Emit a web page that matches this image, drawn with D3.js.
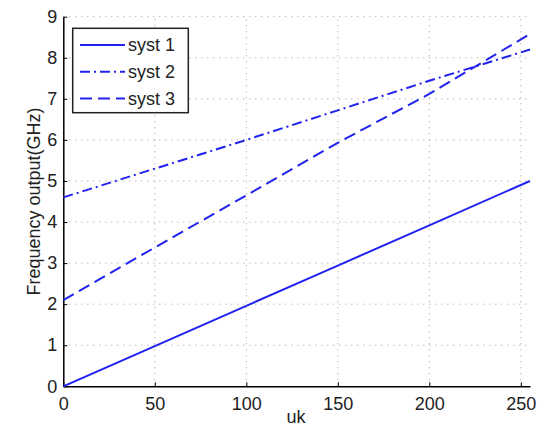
<!DOCTYPE html>
<html>
<head>
<meta charset="utf-8">
<script src="https://cdn.jsdelivr.net/npm/d3@7"></script>
<style>
body { margin: 0; background: #fff; }
text { font-family: "Liberation Sans", Arial, sans-serif; }
</style>
</head>
<body>
<script>
(function(){
'use strict';

var xs = [0, 50, 100, 150, 200, 255];
var syst1 = [0, 0.98, 1.96, 2.94, 3.92, 5.0];
var syst2 = [4.6, 5.3, 6.0, 6.72, 7.44, 8.2];
var syst3 = [2.1, 3.38, 4.65, 5.93, 7.12, 8.58];
var names = ['syst 1', 'syst 2', 'syst 3'];
var dashes = [null, '10,4,2,4', '12,6'];
var xTicks = [0, 50, 100, 150, 200, 250];
var yTicks = [0, 1, 2, 3, 4, 5, 6, 7, 8, 9];

var W = 544, H = 428;
var left = 63.3, right = 530, top = 16.7, bottom = 386.3;

var svg = d3.select('body').append('svg')
	.attr('width', W)
	.attr('height', H);

var x = d3.scaleLinear().domain([0, 255]).range([left, right]);
var y = d3.scaleLinear().domain([0, 9]).range([bottom, top]);

// grid
var grid = svg.append('g')
	.attr('stroke', '#999')
	.attr('stroke-width', 1)
	.attr('stroke-dasharray', '1,5');
grid.selectAll('.gx').data(xTicks).enter().append('line')
	.attr('x1', function(d){ return x(d); })
	.attr('x2', function(d){ return x(d); })
	.attr('y1', bottom).attr('y2', top);
grid.selectAll('.gy').data(yTicks).enter().append('line')
	.attr('y1', function(d){ return y(d); })
	.attr('y2', function(d){ return y(d); })
	.attr('x1', left).attr('x2', right);

// axes
var xAxis = svg.append('g')
	.attr('transform', 'translate(0,' + bottom + ')')
	.call(d3.axisBottom(x).tickValues(xTicks).tickSizeInner(-4).tickSizeOuter(0).tickPadding(8));
var yAxis = svg.append('g')
	.attr('transform', 'translate(' + left + ',0)')
	.call(d3.axisLeft(y).tickValues(yTicks).tickSizeInner(-4).tickSizeOuter(0).tickPadding(6));

[xAxis, yAxis].forEach(function(a){
	a.select('.domain').attr('stroke', '#000').attr('stroke-width', 1.5);
	a.selectAll('.tick line').attr('stroke', '#000');
	a.selectAll('text').attr('font-size', 18).attr('fill', '#222')
		.attr('font-family', '"Liberation Sans", Arial, sans-serif');
});
xAxis.selectAll('text').attr('dy', '0.85em');

// lines
var series = [syst1, syst2, syst3];
var line = d3.line()
	.x(function(d, i){ return x(xs[i]); })
	.y(function(d){ return y(d); });

svg.selectAll('.series').data(series).enter().append('path')
	.attr('d', function(d){ return line(d); })
	.attr('fill', 'none')
	.attr('stroke', '#2222ee')
	.attr('stroke-width', 2)
	.attr('stroke-dasharray', function(d, i){ return dashes[i]; });

// legend
var lg = svg.append('g');
lg.append('rect')
	.attr('x', 72.7).attr('y', 28.3)
	.attr('width', 115.6).attr('height', 84.4)
	.attr('fill', '#fff')
	.attr('stroke', '#222')
	.attr('stroke-width', 1.5);
names.forEach(function(n, i){
	var ly = 45 + i * 26.8;
	lg.append('line')
		.attr('x1', 80).attr('x2', 125)
		.attr('y1', ly).attr('y2', ly)
		.attr('stroke', '#2222ee')
		.attr('stroke-width', 2)
		.attr('stroke-dasharray', dashes[i]);
	lg.append('text')
		.attr('x', 128).attr('y', ly)
		.attr('dy', '0.36em')
		.attr('font-size', 18)
		.attr('fill', '#222')
		.text(n);
});

// axis labels
svg.append('text')
	.attr('x', 296)
	.attr('y', 423)
	.attr('text-anchor', 'middle')
	.attr('font-size', 18)
	.attr('fill', '#222')
	.text('uk');

svg.append('text')
	.attr('transform', 'translate(40,' + ((top + bottom) / 2) + ') rotate(-90)')
	.attr('text-anchor', 'middle')
	.attr('font-size', 18)
	.attr('fill', '#222')
	.text('Frequency output(GHz)');

})();
</script>
</body>
</html>
